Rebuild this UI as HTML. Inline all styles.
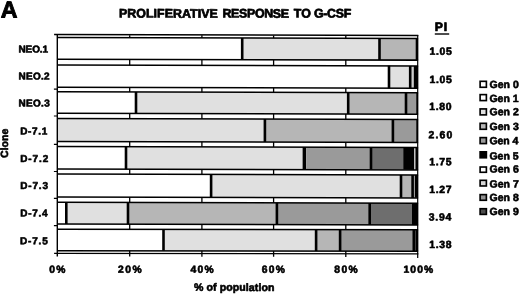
<!DOCTYPE html>
<html lang="en"><head><meta charset="utf-8"><title>Proliferative response to G-CSF</title>
<style>html,body{margin:0;padding:0;background:#fff}svg{display:block;filter:blur(0.35px)}</style></head>
<body>
<svg width="520" height="294" viewBox="0 0 520 294">
<rect width="520" height="294" fill="#fff"/>
<g transform="matrix(1,0.0025,0,1,0,-0.14)">
<line x1="129.7" y1="35" x2="129.7" y2="256.3" stroke="#000" stroke-width="1.3"/>
<line x1="201.9" y1="35" x2="201.9" y2="256.3" stroke="#000" stroke-width="1.3"/>
<line x1="273.6" y1="35" x2="273.6" y2="256.3" stroke="#000" stroke-width="1.3"/>
<line x1="345.8" y1="35" x2="345.8" y2="256.3" stroke="#000" stroke-width="1.3"/>
<line x1="54.099999999999994" y1="34.6" x2="418.3" y2="34.6" stroke="#000" stroke-width="1.5"/>
<line x1="53.9" y1="89.1" x2="57.3" y2="89.1" stroke="#000" stroke-width="1.2"/>
<line x1="53.9" y1="116.0" x2="57.3" y2="116.0" stroke="#000" stroke-width="1.2"/>
<line x1="53.9" y1="144.4" x2="57.3" y2="144.4" stroke="#000" stroke-width="1.2"/>
<line x1="53.9" y1="171.5" x2="57.3" y2="171.5" stroke="#000" stroke-width="1.2"/>
<line x1="53.9" y1="198.3" x2="57.3" y2="198.3" stroke="#000" stroke-width="1.2"/>
<line x1="53.9" y1="225.6" x2="57.3" y2="225.6" stroke="#000" stroke-width="1.2"/>
<rect x="57.3" y="37.5" width="184.9" height="21.7" fill="#ffffff"/>
<rect x="242.2" y="37.5" width="137.3" height="21.7" fill="#e0e0e0"/>
<rect x="379.5" y="37.5" width="36.1" height="21.7" fill="#b6b6b6"/>
<rect x="415.6" y="37.5" width="2.5" height="21.7" fill="#000000"/>
<line x1="242.2" y1="37.5" x2="242.2" y2="59.2" stroke="#000" stroke-width="2.6"/>
<line x1="379.5" y1="37.5" x2="379.5" y2="59.2" stroke="#000" stroke-width="2.6"/>
<line x1="57.3" y1="37.5" x2="418.1" y2="37.5" stroke="#000" stroke-width="1.5"/>
<line x1="57.3" y1="59.2" x2="418.1" y2="59.2" stroke="#000" stroke-width="1.55"/>
<rect x="57.3" y="65.0" width="331.7" height="22.3" fill="#ffffff"/>
<rect x="389.0" y="65.0" width="21.2" height="22.3" fill="#e0e0e0"/>
<rect x="410.2" y="65.0" width="3.6" height="22.3" fill="#cccccc"/>
<rect x="413.8" y="65.0" width="4.3" height="22.3" fill="#000000"/>
<line x1="389.0" y1="65.0" x2="389.0" y2="87.3" stroke="#000" stroke-width="2.6"/>
<line x1="410.2" y1="65.0" x2="410.2" y2="87.3" stroke="#000" stroke-width="2.6"/>
<line x1="57.3" y1="65.0" x2="418.1" y2="65.0" stroke="#000" stroke-width="1.5"/>
<line x1="57.3" y1="87.3" x2="418.1" y2="87.3" stroke="#000" stroke-width="1.55"/>
<rect x="57.3" y="91.8" width="78.7" height="21.5" fill="#ffffff"/>
<rect x="136.0" y="91.8" width="212.2" height="21.5" fill="#e0e0e0"/>
<rect x="348.2" y="91.8" width="57.8" height="21.5" fill="#b6b6b6"/>
<rect x="406.0" y="91.8" width="10.2" height="21.5" fill="#9a9a9a"/>
<rect x="416.2" y="91.8" width="1.9" height="21.5" fill="#000000"/>
<line x1="136.0" y1="91.8" x2="136.0" y2="113.3" stroke="#000" stroke-width="2.6"/>
<line x1="348.2" y1="91.8" x2="348.2" y2="113.3" stroke="#000" stroke-width="2.6"/>
<line x1="406.0" y1="91.8" x2="406.0" y2="113.3" stroke="#000" stroke-width="2.6"/>
<line x1="57.3" y1="91.8" x2="418.1" y2="91.8" stroke="#000" stroke-width="1.5"/>
<line x1="57.3" y1="113.3" x2="418.1" y2="113.3" stroke="#000" stroke-width="1.55"/>
<rect x="57.3" y="118.5" width="207.6" height="23.0" fill="#e0e0e0"/>
<rect x="264.9" y="118.5" width="128.0" height="23.0" fill="#b6b6b6"/>
<rect x="392.9" y="118.5" width="23.3" height="23.0" fill="#9a9a9a"/>
<rect x="416.2" y="118.5" width="1.9" height="23.0" fill="#000000"/>
<line x1="264.9" y1="118.5" x2="264.9" y2="141.5" stroke="#000" stroke-width="2.6"/>
<line x1="392.9" y1="118.5" x2="392.9" y2="141.5" stroke="#000" stroke-width="2.6"/>
<line x1="57.3" y1="118.5" x2="418.1" y2="118.5" stroke="#000" stroke-width="1.5"/>
<line x1="57.3" y1="141.5" x2="418.1" y2="141.5" stroke="#000" stroke-width="1.55"/>
<rect x="57.3" y="146.5" width="68.7" height="22.5" fill="#ffffff"/>
<rect x="126.0" y="146.5" width="176.6" height="22.5" fill="#e0e0e0"/>
<rect x="302.6" y="146.5" width="3.6" height="22.5" fill="#000000"/>
<rect x="306.2" y="146.5" width="64.8" height="22.5" fill="#9a9a9a"/>
<rect x="371.0" y="146.5" width="32.2" height="22.5" fill="#6e6e6e"/>
<rect x="403.2" y="146.5" width="11.3" height="22.5" fill="#000000"/>
<rect x="414.5" y="146.5" width="0.9" height="22.5" fill="#ffffff"/>
<rect x="415.4" y="146.5" width="2.7" height="22.5" fill="#000000"/>
<line x1="126.0" y1="146.5" x2="126.0" y2="169.0" stroke="#000" stroke-width="2.6"/>
<line x1="371.0" y1="146.5" x2="371.0" y2="169.0" stroke="#000" stroke-width="2.6"/>
<line x1="57.3" y1="146.5" x2="418.1" y2="146.5" stroke="#000" stroke-width="1.5"/>
<line x1="57.3" y1="169.0" x2="418.1" y2="169.0" stroke="#000" stroke-width="1.55"/>
<rect x="57.3" y="174.05" width="153.8" height="22.9" fill="#ffffff"/>
<rect x="211.1" y="174.05" width="189.9" height="22.9" fill="#e0e0e0"/>
<rect x="401.0" y="174.05" width="11.6" height="22.9" fill="#b6b6b6"/>
<rect x="412.6" y="174.05" width="2.4" height="22.9" fill="#9a9a9a"/>
<rect x="415.0" y="174.05" width="3.1" height="22.9" fill="#000000"/>
<line x1="211.1" y1="174.05" x2="211.1" y2="197.0" stroke="#000" stroke-width="2.6"/>
<line x1="401.0" y1="174.05" x2="401.0" y2="197.0" stroke="#000" stroke-width="2.6"/>
<line x1="412.6" y1="174.05" x2="412.6" y2="197.0" stroke="#000" stroke-width="2.6"/>
<line x1="57.3" y1="174.05" x2="418.1" y2="174.05" stroke="#000" stroke-width="1.5"/>
<line x1="57.3" y1="197.0" x2="418.1" y2="197.0" stroke="#000" stroke-width="1.55"/>
<rect x="57.3" y="202.25" width="9.0" height="21.8" fill="#ffffff"/>
<rect x="66.3" y="202.25" width="61.7" height="21.8" fill="#e0e0e0"/>
<rect x="128.0" y="202.25" width="148.9" height="21.8" fill="#b6b6b6"/>
<rect x="276.9" y="202.25" width="92.8" height="21.8" fill="#9a9a9a"/>
<rect x="369.7" y="202.25" width="42.3" height="21.8" fill="#6e6e6e"/>
<rect x="412.0" y="202.25" width="6.1" height="21.8" fill="#000000"/>
<line x1="66.3" y1="202.25" x2="66.3" y2="224.0" stroke="#000" stroke-width="2.6"/>
<line x1="128.0" y1="202.25" x2="128.0" y2="224.0" stroke="#000" stroke-width="2.6"/>
<line x1="276.9" y1="202.25" x2="276.9" y2="224.0" stroke="#000" stroke-width="2.6"/>
<line x1="369.7" y1="202.25" x2="369.7" y2="224.0" stroke="#000" stroke-width="2.6"/>
<line x1="57.3" y1="202.25" x2="418.1" y2="202.25" stroke="#000" stroke-width="1.5"/>
<line x1="57.3" y1="224.0" x2="418.1" y2="224.0" stroke="#000" stroke-width="1.55"/>
<g transform="matrix(1,-0.0011,0,1,0,0.063)">
<rect x="57.3" y="229.25" width="106.2" height="21.4" fill="#ffffff"/>
<rect x="163.5" y="229.25" width="152.6" height="21.4" fill="#e0e0e0"/>
<rect x="316.1" y="229.25" width="24.0" height="21.4" fill="#b6b6b6"/>
<rect x="340.1" y="229.25" width="73.7" height="21.4" fill="#9a9a9a"/>
<rect x="413.8" y="229.25" width="1.5" height="21.4" fill="#b6b6b6"/>
<rect x="415.3" y="229.25" width="2.8" height="21.4" fill="#000000"/>
<line x1="163.5" y1="229.25" x2="163.5" y2="250.7" stroke="#000" stroke-width="2.6"/>
<line x1="316.1" y1="229.25" x2="316.1" y2="250.7" stroke="#000" stroke-width="2.6"/>
<line x1="340.1" y1="229.25" x2="340.1" y2="250.7" stroke="#000" stroke-width="2.6"/>
<line x1="413.8" y1="229.25" x2="413.8" y2="250.7" stroke="#000" stroke-width="2.6"/>
<line x1="57.3" y1="229.25" x2="418.1" y2="229.25" stroke="#000" stroke-width="1.5"/>
<line x1="57.3" y1="250.7" x2="418.1" y2="250.7" stroke="#000" stroke-width="1.55"/>
<line x1="54.099999999999994" y1="253.4" x2="418.40000000000003" y2="253.4" stroke="#000" stroke-width="1.25"/>
</g>
<line x1="57.3" y1="34.1" x2="57.3" y2="256.5" stroke="#000" stroke-width="1.4"/>
<line x1="417.70000000000005" y1="34.0" x2="417.70000000000005" y2="257.2" stroke="#000" stroke-width="1.2"/>
</g>
<line x1="434.8" y1="34" x2="449.2" y2="34" stroke="#000" stroke-width="1.4"/>
<rect x="480.12" y="81.32" width="6.26" height="5.96" fill="#ffffff" stroke="#000" stroke-width="1.64"/>
<rect x="480.12" y="94.62" width="6.26" height="5.96" fill="#ffffff" stroke="#000" stroke-width="1.64"/>
<rect x="480.12" y="108.92" width="6.26" height="5.96" fill="#e0e0e0" stroke="#000" stroke-width="1.64"/>
<rect x="480.12" y="123.32" width="6.26" height="5.96" fill="#b6b6b6" stroke="#000" stroke-width="1.64"/>
<rect x="480.12" y="137.62" width="6.26" height="5.96" fill="#9a9a9a" stroke="#000" stroke-width="1.64"/>
<rect x="480.12" y="151.82" width="6.26" height="5.96" fill="#000000" stroke="#000" stroke-width="1.64"/>
<rect x="480.12" y="167.02" width="6.26" height="5.26" fill="#ffffff" stroke="#000" stroke-width="1.64"/>
<rect x="480.12" y="180.32" width="6.26" height="5.66" fill="#d6d6d6" stroke="#000" stroke-width="1.64"/>
<rect x="480.12" y="194.62" width="6.26" height="5.66" fill="#929292" stroke="#000" stroke-width="1.64"/>
<rect x="480.12" y="208.72" width="6.26" height="5.66" fill="#4c4c4c" stroke="#000" stroke-width="1.64"/>
<text transform="translate(0.75,17.50) matrix(1,0.0025,0,1,0,0)" font-family="Liberation Sans, Arial, Helvetica, sans-serif" font-weight="bold" stroke="#000" stroke-width="0.9" stroke-linejoin="round" font-size="23.2" textLength="18.00" lengthAdjust="spacing">A</text>
<text transform="translate(119.00,17.50) matrix(1,0.0025,0,1,0,0)" font-family="Liberation Sans, Arial, Helvetica, sans-serif" font-weight="bold" stroke="#000" stroke-width="0.7" stroke-linejoin="round" font-size="12.4" textLength="98.75" lengthAdjust="spacing">PROLIFERATIVE</text>
<text transform="translate(222.50,17.50) matrix(1,0.0025,0,1,0,0)" font-family="Liberation Sans, Arial, Helvetica, sans-serif" font-weight="bold" stroke="#000" stroke-width="0.7" stroke-linejoin="round" font-size="12.4" textLength="66.50" lengthAdjust="spacing">RESPONSE</text>
<text transform="translate(293.75,17.50) matrix(1,0.0025,0,1,0,0)" font-family="Liberation Sans, Arial, Helvetica, sans-serif" font-weight="bold" stroke="#000" stroke-width="0.7" stroke-linejoin="round" font-size="12.4" textLength="17.25" lengthAdjust="spacing">TO</text>
<text transform="translate(314.00,17.50) matrix(1,0.0025,0,1,0,0)" font-family="Liberation Sans, Arial, Helvetica, sans-serif" font-weight="bold" stroke="#000" stroke-width="0.7" stroke-linejoin="round" font-size="12.4" textLength="37.25" lengthAdjust="spacing">G-CSF</text>
<text transform="translate(18.50,52.50) matrix(1,0.0025,0,1,0,0)" font-family="Liberation Sans, Arial, Helvetica, sans-serif" font-weight="bold" stroke="#000" stroke-width="0.6" stroke-linejoin="round" font-size="10.0" textLength="29.50" lengthAdjust="spacing">NEO.1</text>
<text transform="translate(18.50,79.50) matrix(1,0.0025,0,1,0,0)" font-family="Liberation Sans, Arial, Helvetica, sans-serif" font-weight="bold" stroke="#000" stroke-width="0.6" stroke-linejoin="round" font-size="10.0" textLength="31.00" lengthAdjust="spacing">NEO.2</text>
<text transform="translate(18.50,106.50) matrix(1,0.0025,0,1,0,0)" font-family="Liberation Sans, Arial, Helvetica, sans-serif" font-weight="bold" stroke="#000" stroke-width="0.6" stroke-linejoin="round" font-size="10.0" textLength="31.25" lengthAdjust="spacing">NEO.3</text>
<text transform="translate(20.25,134.50) matrix(1,0.0025,0,1,0,0)" font-family="Liberation Sans, Arial, Helvetica, sans-serif" font-weight="bold" stroke="#000" stroke-width="0.6" stroke-linejoin="round" font-size="10.0" textLength="27.00" lengthAdjust="spacing">D-7.1</text>
<text transform="translate(20.25,162.00) matrix(1,0.0025,0,1,0,0)" font-family="Liberation Sans, Arial, Helvetica, sans-serif" font-weight="bold" stroke="#000" stroke-width="0.6" stroke-linejoin="round" font-size="10.0" textLength="28.00" lengthAdjust="spacing">D-7.2</text>
<text transform="translate(20.25,189.00) matrix(1,0.0025,0,1,0,0)" font-family="Liberation Sans, Arial, Helvetica, sans-serif" font-weight="bold" stroke="#000" stroke-width="0.6" stroke-linejoin="round" font-size="10.0" textLength="27.75" lengthAdjust="spacing">D-7.3</text>
<text transform="translate(20.25,216.50) matrix(1,0.0025,0,1,0,0)" font-family="Liberation Sans, Arial, Helvetica, sans-serif" font-weight="bold" stroke="#000" stroke-width="0.6" stroke-linejoin="round" font-size="10.0" textLength="27.25" lengthAdjust="spacing">D-7.4</text>
<text transform="translate(20.00,244.25) matrix(1,0.0025,0,1,0,0)" font-family="Liberation Sans, Arial, Helvetica, sans-serif" font-weight="bold" stroke="#000" stroke-width="0.6" stroke-linejoin="round" font-size="10.0" textLength="27.75" lengthAdjust="spacing">D-7.5</text>
<text transform="translate(49.25,272.75) matrix(1,0.0025,0,1,0,0)" font-family="Liberation Sans, Arial, Helvetica, sans-serif" font-weight="bold" stroke="#000" stroke-width="0.6" stroke-linejoin="round" font-size="10.3" textLength="16.25" lengthAdjust="spacing">0%</text>
<text transform="translate(118.00,272.75) matrix(1,0.0025,0,1,0,0)" font-family="Liberation Sans, Arial, Helvetica, sans-serif" font-weight="bold" stroke="#000" stroke-width="0.6" stroke-linejoin="round" font-size="10.3" textLength="23.75" lengthAdjust="spacing">20%</text>
<text transform="translate(190.50,272.75) matrix(1,0.0025,0,1,0,0)" font-family="Liberation Sans, Arial, Helvetica, sans-serif" font-weight="bold" stroke="#000" stroke-width="0.6" stroke-linejoin="round" font-size="10.3" textLength="23.25" lengthAdjust="spacing">40%</text>
<text transform="translate(261.75,272.75) matrix(1,0.0025,0,1,0,0)" font-family="Liberation Sans, Arial, Helvetica, sans-serif" font-weight="bold" stroke="#000" stroke-width="0.6" stroke-linejoin="round" font-size="10.3" textLength="23.25" lengthAdjust="spacing">60%</text>
<text transform="translate(334.25,272.75) matrix(1,0.0025,0,1,0,0)" font-family="Liberation Sans, Arial, Helvetica, sans-serif" font-weight="bold" stroke="#000" stroke-width="0.6" stroke-linejoin="round" font-size="10.3" textLength="23.50" lengthAdjust="spacing">80%</text>
<text transform="translate(403.50,272.75) matrix(1,0.0025,0,1,0,0)" font-family="Liberation Sans, Arial, Helvetica, sans-serif" font-weight="bold" stroke="#000" stroke-width="0.6" stroke-linejoin="round" font-size="10.3" textLength="29.75" lengthAdjust="spacing">100%</text>
<text transform="translate(194.00,290.75) matrix(1,0.0025,0,1,0,0)" font-family="Liberation Sans, Arial, Helvetica, sans-serif" font-weight="bold" stroke="#000" stroke-width="0.6" stroke-linejoin="round" font-size="10.6" textLength="80.50" lengthAdjust="spacing">% of population</text>
<text transform="translate(434.75,31.00) matrix(1,0.0025,0,1,0,0)" font-family="Liberation Sans, Arial, Helvetica, sans-serif" font-weight="bold" stroke="#000" stroke-width="0.7" stroke-linejoin="round" font-size="12.2" textLength="12.50" lengthAdjust="spacing">PI</text>
<text transform="translate(429.50,54.75) matrix(1,0.0025,0,1,0,0)" font-family="Liberation Sans, Arial, Helvetica, sans-serif" font-weight="bold" stroke="#000" stroke-width="0.6" stroke-linejoin="round" font-size="10.4" textLength="22.25" lengthAdjust="spacing">1.05</text>
<text transform="translate(429.50,83.00) matrix(1,0.0025,0,1,0,0)" font-family="Liberation Sans, Arial, Helvetica, sans-serif" font-weight="bold" stroke="#000" stroke-width="0.6" stroke-linejoin="round" font-size="10.4" textLength="22.25" lengthAdjust="spacing">1.05</text>
<text transform="translate(429.25,110.00) matrix(1,0.0025,0,1,0,0)" font-family="Liberation Sans, Arial, Helvetica, sans-serif" font-weight="bold" stroke="#000" stroke-width="0.6" stroke-linejoin="round" font-size="10.4" textLength="22.25" lengthAdjust="spacing">1.80</text>
<text transform="translate(428.50,138.25) matrix(1,0.0025,0,1,0,0)" font-family="Liberation Sans, Arial, Helvetica, sans-serif" font-weight="bold" stroke="#000" stroke-width="0.6" stroke-linejoin="round" font-size="10.4" textLength="23.75" lengthAdjust="spacing">2.60</text>
<text transform="translate(429.25,165.25) matrix(1,0.0025,0,1,0,0)" font-family="Liberation Sans, Arial, Helvetica, sans-serif" font-weight="bold" stroke="#000" stroke-width="0.6" stroke-linejoin="round" font-size="10.4" textLength="22.25" lengthAdjust="spacing">1.75</text>
<text transform="translate(429.25,193.00) matrix(1,0.0025,0,1,0,0)" font-family="Liberation Sans, Arial, Helvetica, sans-serif" font-weight="bold" stroke="#000" stroke-width="0.6" stroke-linejoin="round" font-size="10.4" textLength="22.25" lengthAdjust="spacing">1.27</text>
<text transform="translate(428.75,220.50) matrix(1,0.0025,0,1,0,0)" font-family="Liberation Sans, Arial, Helvetica, sans-serif" font-weight="bold" stroke="#000" stroke-width="0.6" stroke-linejoin="round" font-size="10.4" textLength="22.50" lengthAdjust="spacing">3.94</text>
<text transform="translate(429.25,248.00) matrix(1,0.0025,0,1,0,0)" font-family="Liberation Sans, Arial, Helvetica, sans-serif" font-weight="bold" stroke="#000" stroke-width="0.6" stroke-linejoin="round" font-size="10.4" textLength="22.25" lengthAdjust="spacing">1.38</text>
<text transform="translate(489.50,88.00) matrix(1,0.0025,0,1,0,0)" font-family="Liberation Sans, Arial, Helvetica, sans-serif" font-weight="bold" stroke="#000" stroke-width="0.6" stroke-linejoin="round" font-size="10.5" textLength="29.25" lengthAdjust="spacing">Gen 0</text>
<text transform="translate(489.50,102.00) matrix(1,0.0025,0,1,0,0)" font-family="Liberation Sans, Arial, Helvetica, sans-serif" font-weight="bold" stroke="#000" stroke-width="0.6" stroke-linejoin="round" font-size="10.5" textLength="29.00" lengthAdjust="spacing">Gen 1</text>
<text transform="translate(489.50,115.25) matrix(1,0.0025,0,1,0,0)" font-family="Liberation Sans, Arial, Helvetica, sans-serif" font-weight="bold" stroke="#000" stroke-width="0.6" stroke-linejoin="round" font-size="10.5" textLength="29.25" lengthAdjust="spacing">Gen 2</text>
<text transform="translate(489.50,130.00) matrix(1,0.0025,0,1,0,0)" font-family="Liberation Sans, Arial, Helvetica, sans-serif" font-weight="bold" stroke="#000" stroke-width="0.6" stroke-linejoin="round" font-size="10.5" textLength="29.25" lengthAdjust="spacing">Gen 3</text>
<text transform="translate(489.50,144.25) matrix(1,0.0025,0,1,0,0)" font-family="Liberation Sans, Arial, Helvetica, sans-serif" font-weight="bold" stroke="#000" stroke-width="0.6" stroke-linejoin="round" font-size="10.5" textLength="28.75" lengthAdjust="spacing">Gen 4</text>
<text transform="translate(489.50,159.50) matrix(1,0.0025,0,1,0,0)" font-family="Liberation Sans, Arial, Helvetica, sans-serif" font-weight="bold" stroke="#000" stroke-width="0.6" stroke-linejoin="round" font-size="10.5" textLength="29.00" lengthAdjust="spacing">Gen 5</text>
<text transform="translate(489.50,172.50) matrix(1,0.0025,0,1,0,0)" font-family="Liberation Sans, Arial, Helvetica, sans-serif" font-weight="bold" stroke="#000" stroke-width="0.6" stroke-linejoin="round" font-size="10.5" textLength="29.25" lengthAdjust="spacing">Gen 6</text>
<text transform="translate(489.50,187.50) matrix(1,0.0025,0,1,0,0)" font-family="Liberation Sans, Arial, Helvetica, sans-serif" font-weight="bold" stroke="#000" stroke-width="0.6" stroke-linejoin="round" font-size="10.5" textLength="29.25" lengthAdjust="spacing">Gen 7</text>
<text transform="translate(489.50,201.00) matrix(1,0.0025,0,1,0,0)" font-family="Liberation Sans, Arial, Helvetica, sans-serif" font-weight="bold" stroke="#000" stroke-width="0.6" stroke-linejoin="round" font-size="10.5" textLength="29.25" lengthAdjust="spacing">Gen 8</text>
<text transform="translate(489.50,215.00) matrix(1,0.0025,0,1,0,0)" font-family="Liberation Sans, Arial, Helvetica, sans-serif" font-weight="bold" stroke="#000" stroke-width="0.6" stroke-linejoin="round" font-size="10.5" textLength="29.25" lengthAdjust="spacing">Gen 9</text>
<text transform="translate(8.00,158.00) rotate(-89.85)" font-family="Liberation Sans, Arial, Helvetica, sans-serif" font-weight="bold" stroke="#000" stroke-width="0.6" stroke-linejoin="round" font-size="10.5" textLength="29.25" lengthAdjust="spacing">Clone</text>
</svg>
</body></html>
